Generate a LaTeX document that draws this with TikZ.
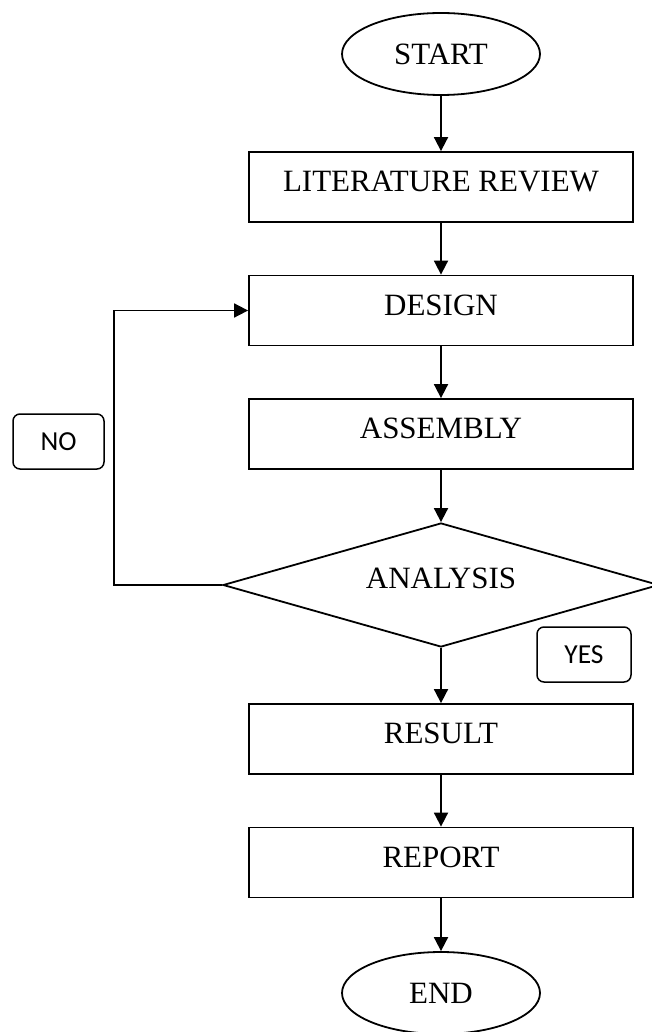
\documentclass[tikz,border=0pt]{standalone}
\usepackage{fontspec}
\setmainfont{Liberation Serif}
\newfontfamily\calib{Carlito}
\usetikzlibrary{shapes.geometric,arrows.meta}
\begin{document}
\begin{tikzpicture}[x=1pt,y=-1pt,
  every node/.style={font=\fontsize{31}{36}\selectfont},
  box/.style={draw,line width=1.8pt,minimum width=384pt,minimum height=70pt,inner sep=0pt,text height=21pt,text depth=12pt},
  term/.style={draw,ellipse,line width=1.8pt,minimum width=198pt,minimum height=82pt,inner sep=0pt},
  decision/.style={draw,diamond,aspect=3.5,line width=1.8pt,minimum width=436pt,minimum height=124pt,inner sep=0pt,text height=21pt,text depth=15pt},
  tag/.style={draw,rounded corners=7pt,line width=1.5pt,inner sep=0pt,minimum height=55pt,font=\calib\fontsize{27.5}{30}\selectfont},
  flow/.style={line width=1.8pt,-{Triangle[length=14pt,width=14pt]}}
]
\useasboundingbox (0,0) rectangle (651,1032);
\node[term] (start) at (441,54) {START};
\node[box] (lit) at (441,187) {LITERATURE REVIEW};
\node[box] (design) at (441,310.5) {DESIGN};
\node[box] (assembly) at (441,434) {ASSEMBLY};
\node[decision] (analysis) at (441,585) {ANALYSIS};
\node[box] (result) at (441,739) {RESULT};
\node[box] (report) at (441,862.5) {REPORT};
\node[term] (end) at (441,993) {END};
\node[tag, minimum width=91pt] (no) at (58.5,441.5) {NO};
\node[tag, minimum width=94pt] (yes) at (584,654.5) {YES};
\coordinate (bend) at (114,0);
\draw[flow] (start) -- (lit);
\draw[flow] (lit) -- (design);
\draw[flow] (design) -- (assembly);
\draw[flow] (assembly) -- (analysis);
\draw[flow] (analysis) -- (result);
\draw[flow] (result) -- (report);
\draw[flow] (report) -- (end);
\draw[flow] (analysis.west) -- (analysis.west -| bend) |- (design.west);
\end{tikzpicture}
\end{document}
